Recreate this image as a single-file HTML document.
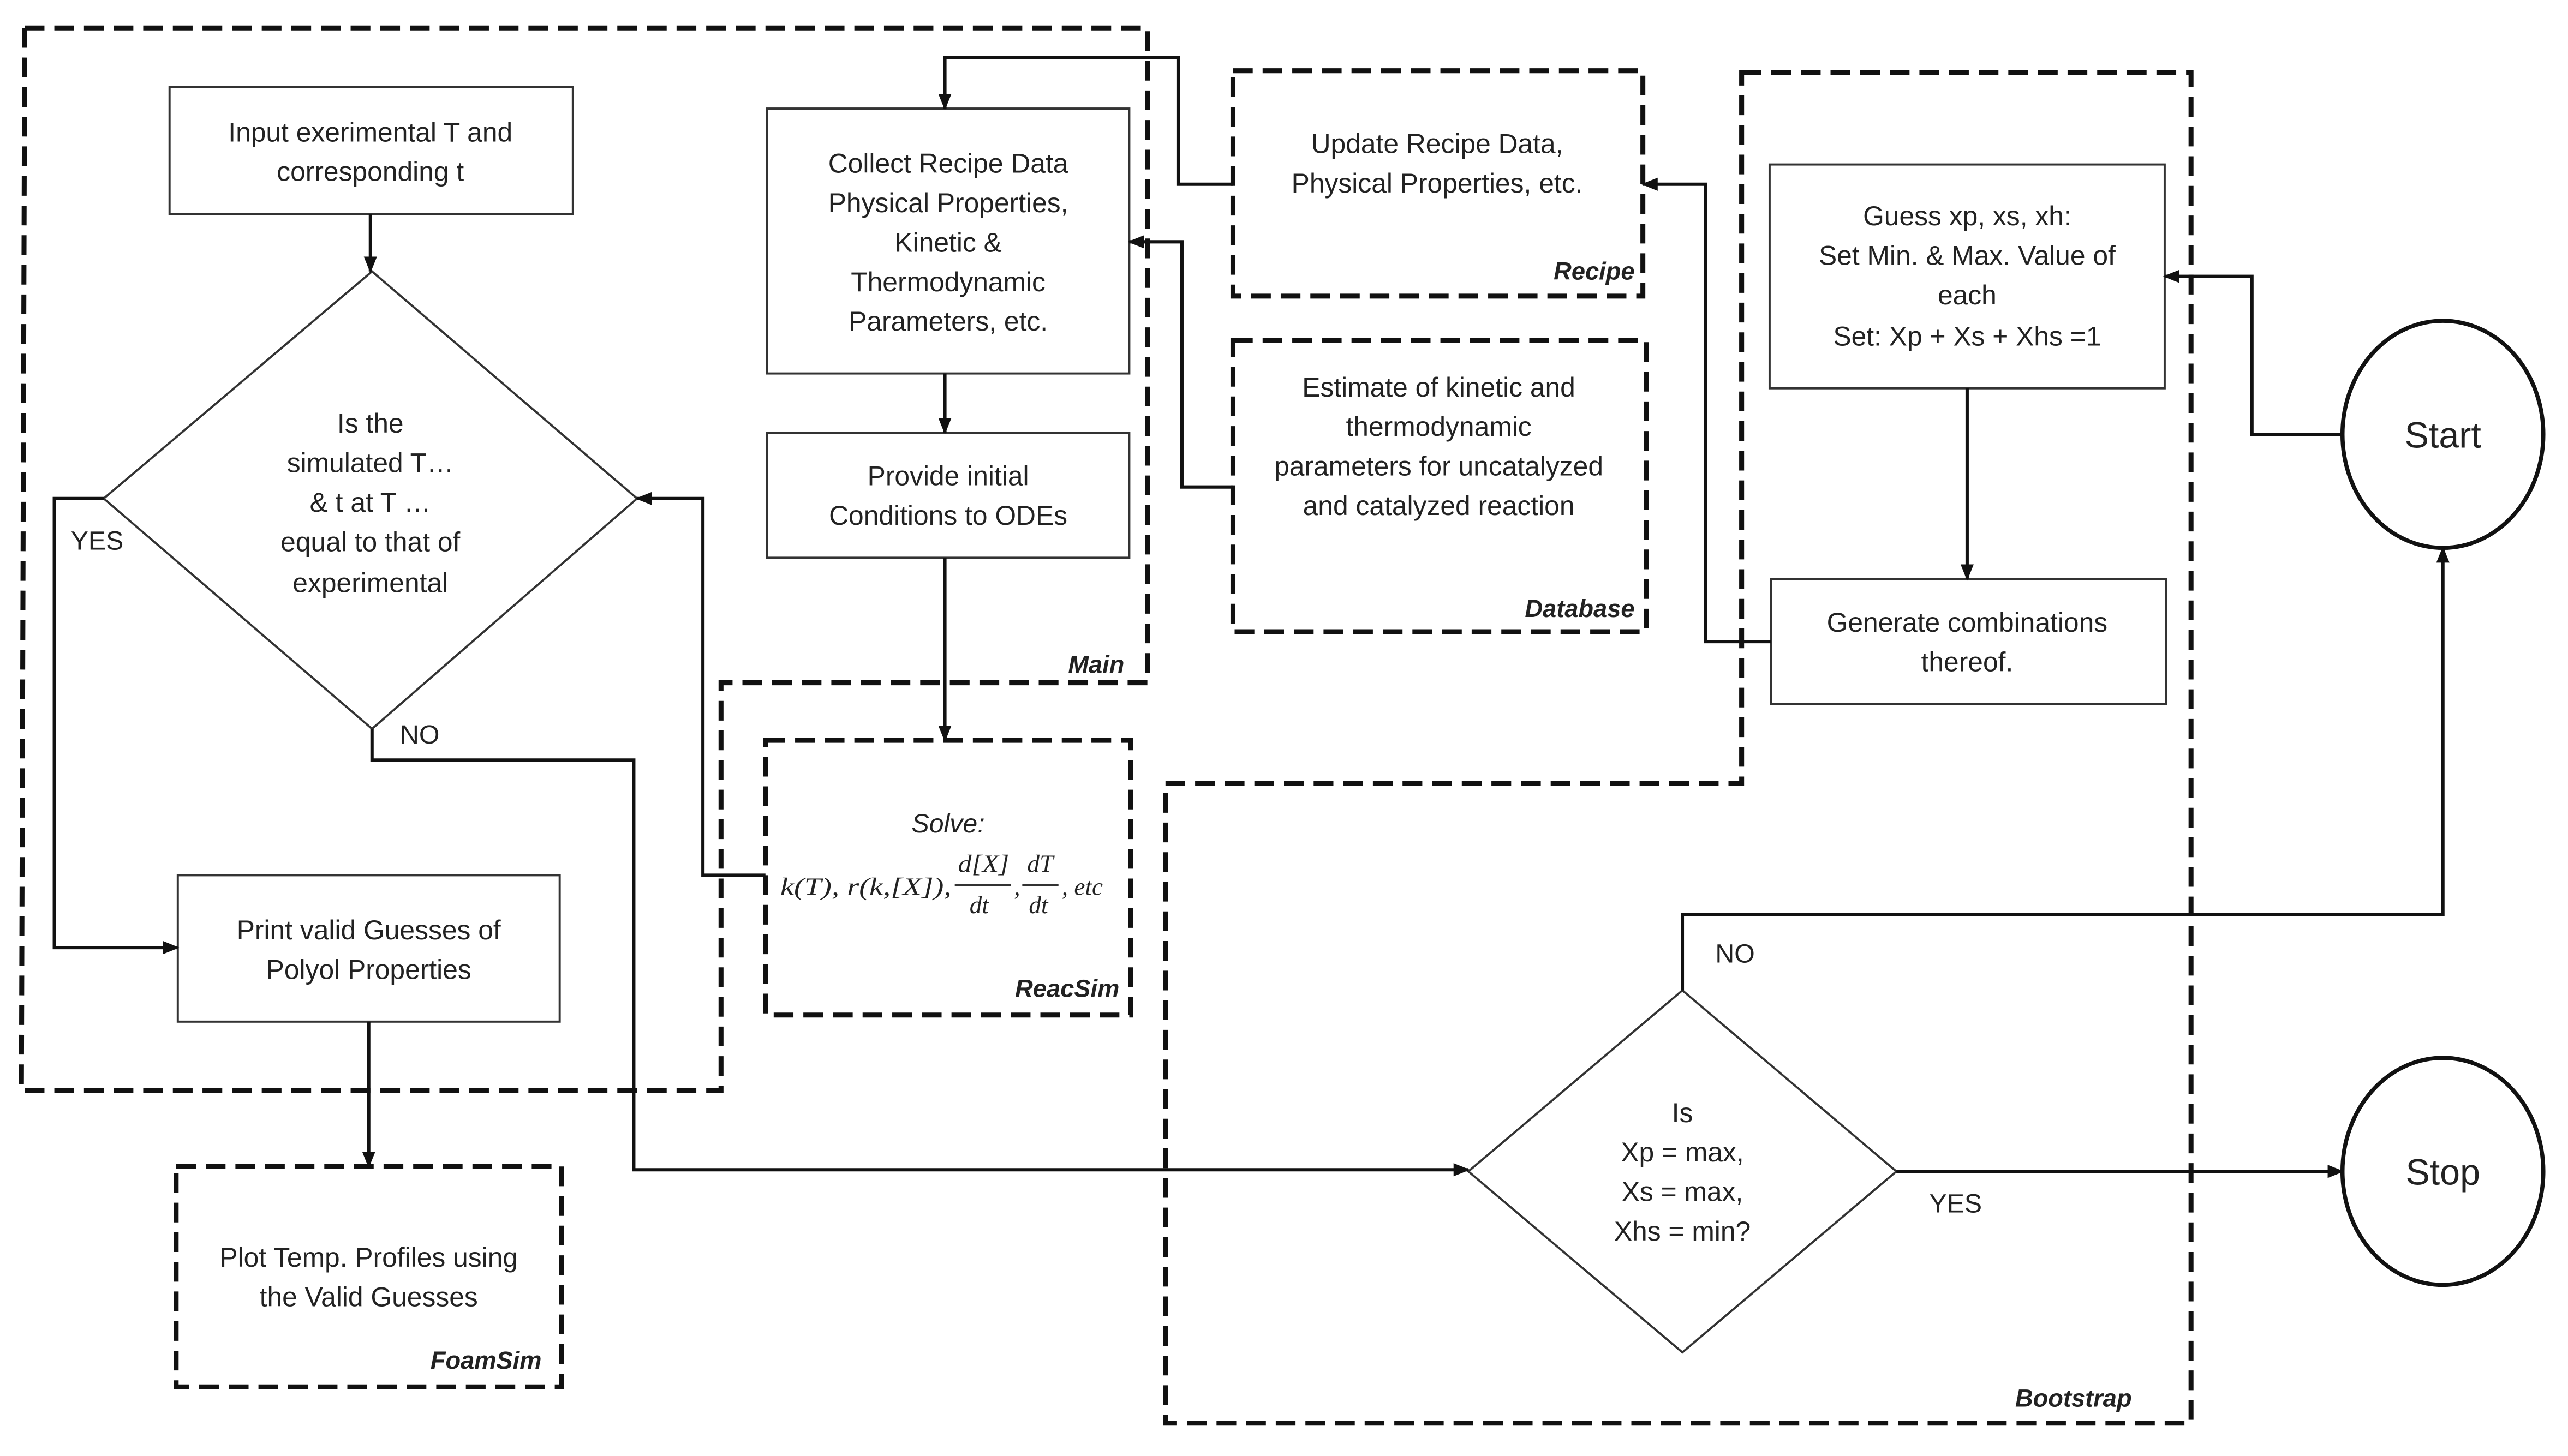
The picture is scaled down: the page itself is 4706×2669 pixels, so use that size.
<!DOCTYPE html>
<html><head><meta charset="utf-8"><style>
html,body{margin:0;padding:0;background:#fff;}
svg{display:block;}
text{font-family:"Liberation Sans",sans-serif;fill:#222;}
.t{font-size:16.5px;text-anchor:middle;}
.l{font-size:15px;font-weight:bold;font-style:italic;text-anchor:end;}
.m{font-family:"Liberation Serif",serif;font-style:italic;font-size:15px;}
</style></head><body>
<svg width="4706" height="2669" viewBox="0 0 1560 885" preserveAspectRatio="none" xmlns="http://www.w3.org/2000/svg">
<defs><marker id="a" markerWidth="10" markerHeight="8" refX="9" refY="4" orient="auto" markerUnits="userSpaceOnUse"><path d="M0,0 L10,4 L0,8 z" fill="#111"/></marker></defs>
<g fill="none" stroke="#111" stroke-width="3" stroke-dasharray="12,6">
<path d="M15,17 L697,17 L697,415 L438,415 L438,663 L13,663 Z"/>
<path d="M1058,44 L1331,44 L1331,865 L708,865 L708,476 L1058,476 Z"/>
<rect x="749" y="43" width="249" height="137"/>
<rect x="749" y="207" width="251" height="177"/>
<rect x="107" y="709" width="234" height="134"/>
<rect x="465" y="450" width="222" height="167"/>
</g>
<g fill="#fff" stroke="#333" stroke-width="1.3">
<rect x="103" y="53" width="245" height="77"/>
<rect x="466" y="66" width="220" height="161"/>
<rect x="466" y="263" width="220" height="76"/>
<rect x="1075" y="100" width="240" height="136"/>
<rect x="1076" y="352" width="240" height="76"/>
<rect x="108" y="532" width="232" height="89"/>
<path d="M226,165 L387,303 L226,443 L63,303 Z"/>
<path d="M1022,602 L1152,712 L1022,822 L892,712 Z"/>
</g>
<g fill="#fff" stroke="#111" stroke-width="2.5">
<ellipse cx="1484" cy="264" rx="61" ry="69"/>
<ellipse cx="1484" cy="712" rx="61" ry="69"/>
</g>
<g fill="none" stroke="#111" stroke-width="2" marker-end="url(#a)">
<path d="M225,130 L225,165"/>
<path d="M63,303 L33,303 L33,576 L108,576"/>
<path d="M226,443 L226,462 L385,462 L385,711 L892,711"/>
<path d="M465,532 L427,532 L427,303 L387,303"/>
<path d="M224,621 L224,709"/>
<path d="M574,227 L574,263"/>
<path d="M574,339 L574,450"/>
<path d="M749,112 L716,112 L716,35 L574,35 L574,66"/>
<path d="M749,296 L718,296 L718,147 L686,147"/>
<path d="M1076,390 L1036,390 L1036,112 L998,112"/>
<path d="M1195,236 L1195,352"/>
<path d="M1423,264 L1368,264 L1368,168 L1315,168"/>
<path d="M1022,602 L1022,556 L1484,556 L1484,333"/>
<path d="M1152,712 L1423,712"/>
</g>
<text class="t" x="225" y="86">Input exerimental T and</text>
<text class="t" x="225" y="110">corresponding  t</text>
<text class="t" x="576" y="105">Collect Recipe Data</text>
<text class="t" x="576" y="129">Physical Properties,</text>
<text class="t" x="576" y="153">Kinetic &amp;</text>
<text class="t" x="576" y="177">Thermodynamic</text>
<text class="t" x="576" y="201">Parameters, etc.</text>
<text class="t" x="576" y="295">Provide initial</text>
<text class="t" x="576" y="319">Conditions to ODEs</text>
<text class="t" x="873" y="93">Update Recipe Data,</text>
<text class="t" x="873" y="117">Physical Properties, etc.</text>
<text class="t" x="874" y="241">Estimate of kinetic and</text>
<text class="t" x="874" y="265">thermodynamic</text>
<text class="t" x="874" y="289">parameters for uncatalyzed</text>
<text class="t" x="874" y="313">and catalyzed reaction</text>
<text class="t" x="1195" y="137">Guess xp, xs, xh:</text>
<text class="t" x="1195" y="161">Set Min. &amp; Max. Value of</text>
<text class="t" x="1195" y="185">each</text>
<text class="t" x="1195" y="210">Set: Xp + Xs + Xhs =1</text>
<text class="t" x="1195" y="384">Generate combinations</text>
<text class="t" x="1195" y="408">thereof.</text>
<text class="t" x="225" y="263">Is the</text>
<text class="t" x="225" y="287">simulated T…</text>
<text class="t" x="225" y="311">&amp; t at T …</text>
<text class="t" x="225" y="335">equal to that of</text>
<text class="t" x="225" y="360">experimental</text>
<text class="t" x="224" y="571">Print valid Guesses of</text>
<text class="t" x="224" y="595">Polyol Properties</text>
<text class="t" x="224" y="770">Plot Temp. Profiles using</text>
<text class="t" x="224" y="794">the Valid Guesses</text>
<text class="t" x="1022" y="682">Is</text>
<text class="t" x="1022" y="706">Xp = max,</text>
<text class="t" x="1022" y="730">Xs = max,</text>
<text class="t" x="1022" y="754">Xhs = min?</text>
<text class="t" x="1484" y="272" style="font-size:22px">Start</text>
<text class="t" x="1484" y="720" style="font-size:22px">Stop</text>
<text x="43" y="334" style="font-size:16px">YES</text>
<text x="243" y="452" style="font-size:16px">NO</text>
<text x="1042" y="585" style="font-size:16px">NO</text>
<text x="1172" y="737" style="font-size:16px">YES</text>
<text class="t" x="576" y="506" style="font-style:italic;font-size:16px">Solve:</text>
<text class="m" x="474" y="544" textLength="104" lengthAdjust="spacingAndGlyphs">k(T), r(k,[X]),</text>
<text class="m" x="582" y="530" textLength="31" lengthAdjust="spacingAndGlyphs">d[X]</text>
<line x1="580" y1="538" x2="614" y2="538" stroke="#333" stroke-width="1"/>
<text class="m" x="589" y="555">dt</text>
<text class="m" x="616" y="544">,</text>
<text class="m" x="624" y="530">dT</text>
<line x1="621" y1="538" x2="643" y2="538" stroke="#333" stroke-width="1"/>
<text class="m" x="625" y="555">dt</text>
<text class="m" x="645" y="544">, etc</text>
<text class="l" x="683" y="409">Main</text>
<text class="l" x="993" y="170">Recipe</text>
<text class="l" x="993" y="375">Database</text>
<text class="l" x="680" y="606">ReacSim</text>
<text class="l" x="329" y="832">FoamSim</text>
<text class="l" x="1295" y="855">Bootstrap</text>
</svg>
</body></html>
